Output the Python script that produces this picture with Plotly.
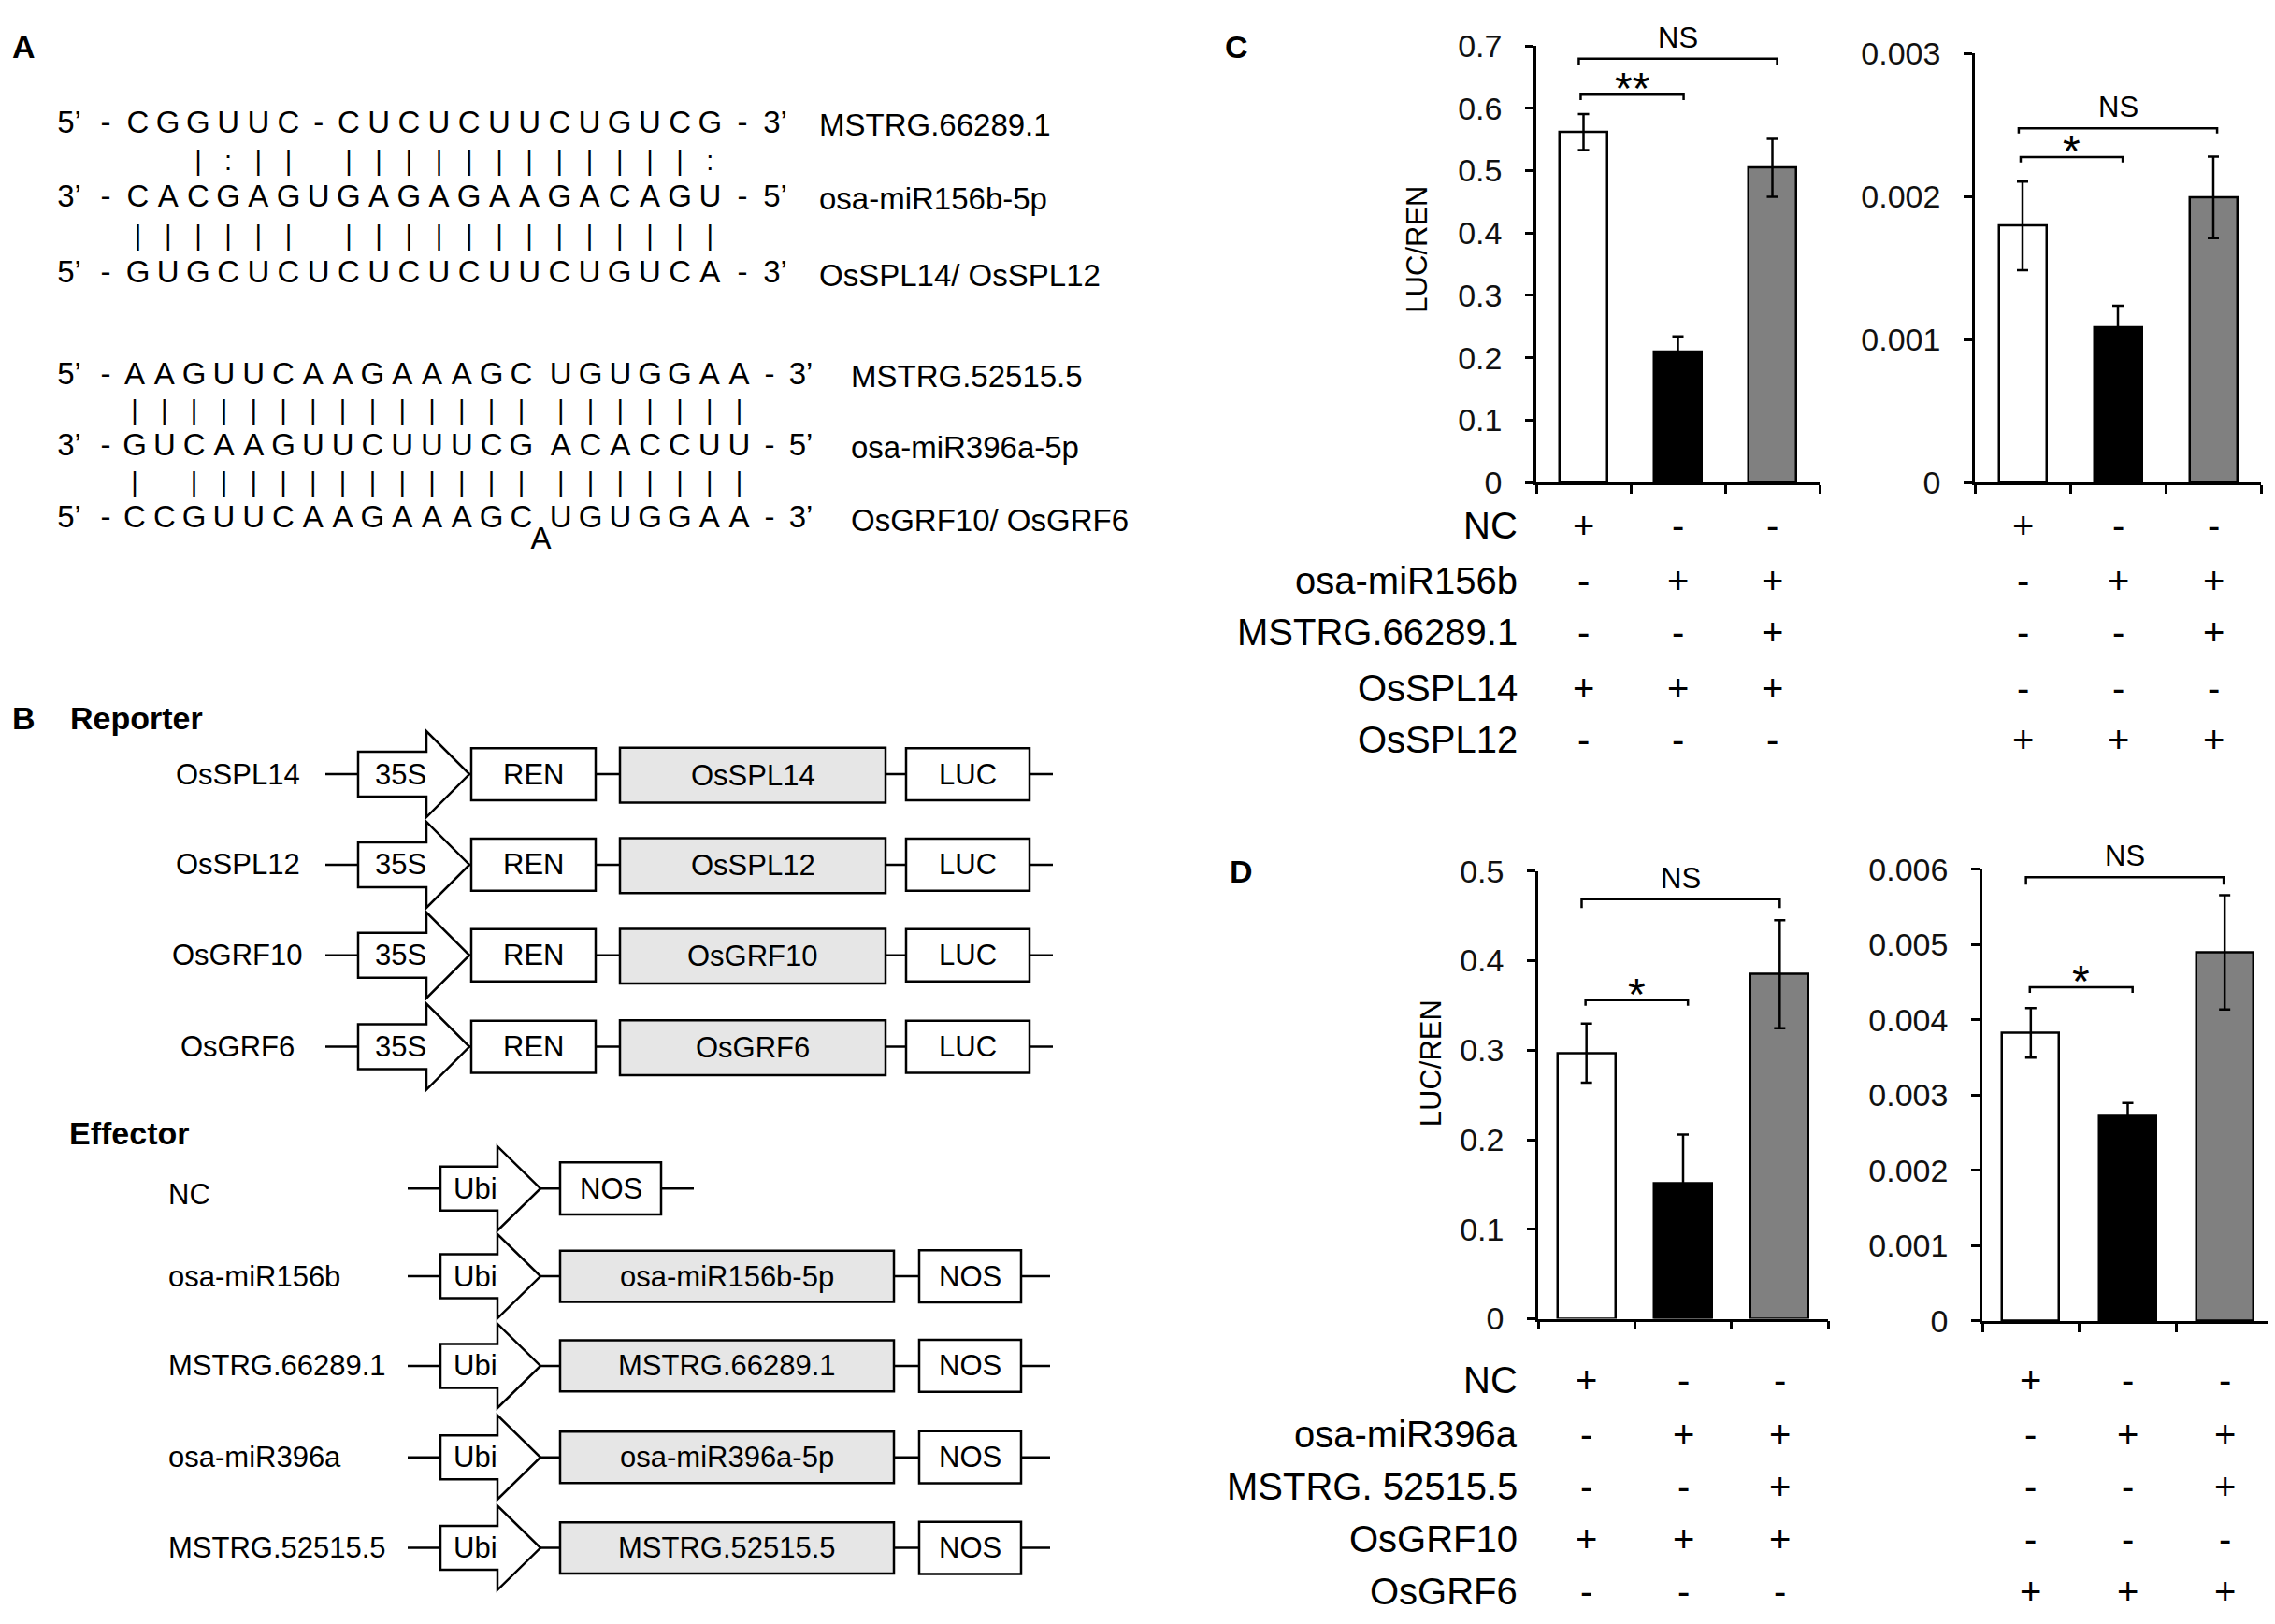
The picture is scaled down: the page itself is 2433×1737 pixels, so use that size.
import plotly.graph_objects as go

W, H = 2433, 1737
FONT = "Arial, 'Liberation Sans', Helvetica, sans-serif"

# ======================= DATA =======================
# ---- Panel C / D bar values ----
bar_x = [0, 1, 2]
bar_colors = ["#ffffff", "#000000", "#808080"]

c_spl14_mean = [0.562, 0.210, 0.5045]
c_spl14_err = [0.029, 0.0245, 0.0465]
c_spl12_mean = [0.001795, 0.001087, 0.001994]
c_spl12_err = [0.00031, 0.00015, 0.000285]
d_grf10_mean = [0.2968, 0.1511, 0.3849]
d_grf10_err = [0.033, 0.0547, 0.0603]
d_grf6_mean = [0.003828, 0.002725, 0.004897]
d_grf6_err = [0.00033, 0.00017, 0.00076]

c_left_tickvals = [0, 0.1, 0.2, 0.3, 0.4, 0.5, 0.6, 0.7]
c_left_ticktext = ["0", "0.1", "0.2", "0.3", "0.4", "0.5", "0.6", "0.7"]
c_right_tickvals = [0, 0.001, 0.002, 0.003]
c_right_ticktext = ["0", "0.001", "0.002", "0.003"]
d_left_tickvals = [0, 0.1, 0.2, 0.3, 0.4, 0.5]
d_left_ticktext = ["0", "0.1", "0.2", "0.3", "0.4", "0.5"]
d_right_tickvals = [0, 0.001, 0.002, 0.003, 0.004, 0.005, 0.006]
d_right_ticktext = ["0", "0.001", "0.002", "0.003", "0.004", "0.005", "0.006"]

# significance brackets: (x start, x end, level, drop end, label)
c_left_brackets = [(-0.05, 2.05, 0.6795, 0.6687, "NS"), (-0.03, 1.06, 0.6218, 0.6135, "**")]
c_right_brackets = [(-0.04, 2.04, 0.002478, 0.002441, "NS"), (-0.02, 1.05, 0.002277, 0.002239, "*")]
d_left_brackets = [(-0.05, 2.00, 0.4687, 0.4588, "NS"), (-0.01, 1.05, 0.3558, 0.3496, "*")]
d_right_brackets = [(-0.05, 1.99, 0.005896, 0.005797, "NS"), (-0.01, 1.05, 0.004434, 0.00436, "*")]

# +/- tables
c_rows = ["NC", "osa-miR156b", "MSTRG.66289.1", "OsSPL14", "OsSPL12"]
c_left_signs = [["+", "-", "-"], ["-", "+", "+"], ["-", "-", "+"], ["+", "+", "+"], ["-", "-", "-"]]
c_right_signs = [["+", "-", "-"], ["-", "+", "+"], ["-", "-", "+"], ["-", "-", "-"], ["+", "+", "+"]]
d_rows = ["NC", "osa-miR396a", "MSTRG. 52515.5", "OsGRF10", "OsGRF6"]
d_left_signs = [["+", "-", "-"], ["-", "+", "+"], ["-", "-", "+"], ["+", "+", "+"], ["-", "-", "-"]]
d_right_signs = [["+", "-", "-"], ["-", "+", "+"], ["-", "-", "+"], ["-", "-", "-"], ["+", "+", "+"]]

# ---- Panel A sequences ----
seq_top = ["CGGUUC-CUCUCUUCUGUCG", "CACGAGUGAGAGAAGACAGU", "GUGCUCUCUCUCUUCUGUCA"]
pair_top = ["  |:|| ||||||||||||:", "|||||| |||||||||||||"]
ends_top = [("5’", "3’"), ("3’", "5’"), ("5’", "3’")]
names_top = ["MSTRG.66289.1", "osa-miR156b-5p", "OsSPL14/ OsSPL12"]

seq_bot = ["AAGUUCAAGAAAGCUGUGGAA", "GUCAAGUUCUUUCGACACCUU", "CCGUUCAAGAAAGCUGUGGAA"]
pair_bot = ["|" * 21, "| " + "|" * 19]
ends_bot = [("5’", "3’"), ("3’", "5’"), ("5’", "3’")]
names_bot = ["MSTRG.52515.5", "osa-miR396a-5p", "OsGRF10/ OsGRF6"]
bulge_base = "A"

# ---- Panel B constructs ----
reporter_names = ["OsSPL14", "OsSPL12", "OsGRF10", "OsGRF6"]
reporter_promoter = "35S"
reporter_first = "REN"
reporter_last = "LUC"
effector_names = ["NC", "osa-miR156b", "MSTRG.66289.1", "osa-miR396a", "MSTRG.52515.5"]
effector_inserts = [None, "osa-miR156b-5p", "MSTRG.66289.1", "osa-miR396a-5p", "MSTRG.52515.5"]
effector_promoter = "Ubi"
effector_term = "NOS"

# ======================= LAYOUT (pixels) =======================
charts = [
    dict(xa="x", ya="y", px=(1635, 1938), py=(500, 22.7), ymax=0.7, mean=c_spl14_mean, err=c_spl14_err,
         tv=c_left_tickvals, tt=c_left_ticktext, bw=0.51, br=c_left_brackets, signs=c_left_signs),
    dict(xa="x2", ya="y2", px=(2104, 2410), py=(500, 31), ymax=0.003, mean=c_spl12_mean, err=c_spl12_err,
         tv=c_right_tickvals, tt=c_right_ticktext, bw=0.50, br=c_right_brackets, signs=c_right_signs),
    dict(xa="x3", ya="y3", px=(1637, 1947), py=(1414.5, 925), ymax=0.5, mean=d_grf10_mean, err=d_grf10_err,
         tv=d_left_tickvals, tt=d_left_ticktext, bw=0.60, br=d_left_brackets, signs=d_left_signs),
    dict(xa="x4", ya="y4", px=(2112, 2423), py=(1417, 923), ymax=0.006, mean=d_grf6_mean, err=d_grf6_err,
         tv=d_right_tickvals, tt=d_right_ticktext, bw=0.59, br=d_right_brackets, signs=d_right_signs),
]
c_row_y = [547, 607, 664, 725, 781]
d_row_y = [1481, 1541, 1598, 1655, 1712]
table_label_x = 1616

fig = go.Figure()
annotations = []
shapes = []
layout_axes = {}


def ann(text, x, y, size, xref="x5", yref="y5", xanchor="center", yanchor="middle", bold=False, angle=0,
        yshift=0):
    annotations.append(dict(
        text=("<b>%s</b>" % text) if bold else text, x=x, y=y, xref=xref, yref=yref,
        xanchor=xanchor, yanchor=yanchor, showarrow=False, textangle=angle, yshift=yshift,
        font=dict(family=FONT, size=size, color="#000000"), borderpad=0))


for i, c in enumerate(charts):
    fig.add_trace(go.Bar(
        x=bar_x, y=c["mean"], width=c["bw"], xaxis=c["xa"], yaxis=c["ya"],
        marker=dict(color=bar_colors, line=dict(color="#000000", width=2.5)),
        error_y=dict(type="data", array=c["err"], visible=True, color="#000000", thickness=2.5, width=6),
        showlegend=False, hoverinfo="skip"))
    xkey = "xaxis" if c["xa"] == "x" else "xaxis" + c["xa"][1:]
    ykey = "yaxis" if c["ya"] == "y" else "yaxis" + c["ya"][1:]
    layout_axes[xkey] = dict(
        domain=[c["px"][0] / W, c["px"][1] / W], range=[-0.5, 2.5], anchor=c["ya"],
        showline=True, linecolor="#000000", linewidth=2.5, ticks="outside", ticklen=9, tickwidth=2.5,
        tickcolor="#000000", tickvals=[-0.5, 0.5, 1.5, 2.5], showticklabels=False,
        showgrid=False, zeroline=False, fixedrange=True)
    layout_axes[ykey] = dict(
        domain=[1 - c["py"][0] / H, 1 - c["py"][1] / H], range=[0, c["ymax"]], anchor=c["xa"],
        showline=True, linecolor="#000000", linewidth=2.5, ticks="outside", ticklen=9, tickwidth=2.5,
        tickcolor="#000000", tickvals=c["tv"], ticktext=c["tt"], ticklabelstandoff=18,
        tickfont=dict(family=FONT, size=34, color="#111111"),
        showgrid=False, zeroline=False, fixedrange=True)
    # brackets
    for (x0, x1, lev, drop, lab) in c["br"]:
        shapes.append(dict(type="path", xref=c["xa"], yref=c["ya"],
                           path="M %f,%f L %f,%f L %f,%f L %f,%f" % (x0, drop, x0, lev, x1, lev, x1, drop),
                           line=dict(color="#000000", width=2.5)))
        if lab == "NS":
            ann(lab, (x0 + x1) / 2, lev, 31, xref=c["xa"], yref=c["ya"], yanchor="bottom", yshift=4)
        else:
            ann(lab, (x0 + x1) / 2, lev, 48, xref=c["xa"], yref=c["ya"], yanchor="bottom", yshift=-21)
    # sign table
    rows_y = c_row_y if i < 2 else d_row_y
    for r, sg in enumerate(c["signs"]):
        for k, s in enumerate(sg):
            ann(s, bar_x[k], rows_y[r], 40, xref=c["xa"], yref="y5")

# table row labels
for r, name in enumerate(c_rows):
    ann(name, table_label_x, c_row_y[r], 40, xanchor="right")
for r, name in enumerate(d_rows):
    ann(name, table_label_x, d_row_y[r], 40, xanchor="right")

# y titles
ann("LUC/REN", 1508, 245, 31, angle=-90)
ann("LUC/REN", 1522, 1135, 31, angle=-90)

# panel letters
ann("A", 17, 24, 34, bold=True)
ann("B", 17, 758, 34, bold=True)
ann("C", 1314, 24, 34, bold=True)
ann("D", 1319, 925, 34, bold=True)

# ---------------- Panel A ----------------
def add_text_trace(xs, ys, texts, size):
    fig.add_trace(go.Scatter(x=xs, y=ys, text=texts, mode="text", xaxis="x5", yaxis="y5",
                             textfont=dict(family=FONT, size=size, color="#000000"),
                             textposition="middle center", showlegend=False, hoverinfo="skip",
                             cliponaxis=False))


def block(seqs, pairs, ends, names, x0, dx, gap_idx, gap_px, rows_y, pairs_y, dash2_x, end_x, name_x):
    def slot_x(j):
        return x0 + j * dx + (gap_px if (gap_idx is not None and j >= gap_idx) else 0)
    for r, s in enumerate(seqs):
        xs, ys, tx = [], [], []
        for j, ch in enumerate(s):
            xs.append(slot_x(j)); ys.append(rows_y[r]); tx.append(ch)
        xs += [66, 105, dash2_x, end_x]
        ys += [rows_y[r]] * 4
        tx += [ends[r][0], "-", "-", ends[r][1]]
        add_text_trace(xs, ys, tx, 33)
        ann(names[r], name_x, rows_y[r], 33, xanchor="left")
    for r, p in enumerate(pairs):
        xs, ys, tx = [], [], []
        for j, ch in enumerate(p):
            if ch != " ":
                xs.append(slot_x(j)); ys.append(pairs_y[r]); tx.append(ch)
        add_text_trace(xs, ys, tx, 29)
    return slot_x


block(seq_top, pair_top, ends_top, names_top, 139.5, 32.2, None, 0,
      [109, 190, 273], [151, 233], 786, 821, 867)
sx = block(seq_bot, pair_bot, ends_bot, names_bot, 136, 31.8, 14, 10.5,
           [384, 462, 541], [424, 503], 815, 848.5, 901)
add_text_trace([(sx(13) + sx(14)) / 2], [564], [bulge_base], 33)

# ---------------- Panel B ----------------
ann("Reporter", 66, 758, 34, xanchor="left", bold=True)
ann("Effector", 65, 1212, 34, xanchor="left", bold=True)

line_shapes, box_shapes = [], []


def hline(x0, x1, y):
    line_shapes.append(dict(type="line", xref="x5", yref="y5", x0=x0, x1=x1, y0=y, y1=y,
                            line=dict(color="#000000", width=2.5)))


def rect(x0, x1, y, hh, fill):
    box_shapes.append(dict(type="rect", xref="x5", yref="y5", x0=x0, x1=x1, y0=y - hh, y1=y + hh,
                           fillcolor=fill, line=dict(color="#000000", width=2.5)))


def arrow(x0, xm, xt, y, hh, th):
    p = "M %f,%f L %f,%f L %f,%f L %f,%f L %f,%f L %f,%f L %f,%f Z" % (
        x0, y - hh, xm, y - hh, xm, y - th, xt, y, xm, y + th, xm, y + hh, x0, y + hh)
    box_shapes.append(dict(type="path", xref="x5", yref="y5", path=p, fillcolor="#ffffff",
                           line=dict(color="#000000", width=2.5)))


reporter_y = [819, 918, 1017, 1117]
for r, name in enumerate(reporter_names):
    y = reporter_y[r]
    ann(name, 246, y, 31)
    hline(340, 1118, y)
    arrow(375, 448, 494, y, 24.5, 47)
    rect(496, 629, y, 28.5, "#ffffff")
    rect(655, 939, y + 1, 30, "#e6e6e6")
    rect(961, 1093, y, 28.5, "#ffffff")
    ann(reporter_promoter, 420, y, 31)
    ann(reporter_first, 562, y, 31)
    ann(name, 797, y + 1, 31)
    ann(reporter_last, 1027, y, 31)

effector_y = [1272, 1368, 1466, 1566, 1665]
for r, name in enumerate(effector_names):
    y = effector_y[r]
    ann(name, 171, y + (6 if r == 0 else 0), 31, xanchor="left")
    arrow(463, 524, 570, y, 24, 46)
    if effector_inserts[r] is None:
        hline(428, 734, y)
        rect(591, 699, y, 28.5, "#ffffff")
        ann(effector_term, 645, y, 31)
    else:
        hline(428, 1115, y)
        rect(591, 948, y, 28, "#e6e6e6")
        rect(975, 1084, y, 28.5, "#ffffff")
        ann(effector_inserts[r], 769, y, 31)
        ann(effector_term, 1029, y, 31)
    ann(effector_promoter, 500, y, 31)

shapes = line_shapes + box_shapes + shapes

fig.update_layout(
    width=W, height=H, margin=dict(l=0, r=0, t=0, b=0),
    paper_bgcolor="#ffffff", plot_bgcolor="rgba(0,0,0,0)",
    showlegend=False, bargap=0,
    xaxis5=dict(domain=[0, 1], range=[0, W], visible=False, anchor="y5", fixedrange=True),
    yaxis5=dict(domain=[0, 1], range=[H, 0], visible=False, anchor="x5", fixedrange=True),
    annotations=annotations, shapes=shapes,
    **layout_axes)

fig.write_html("out.html")
